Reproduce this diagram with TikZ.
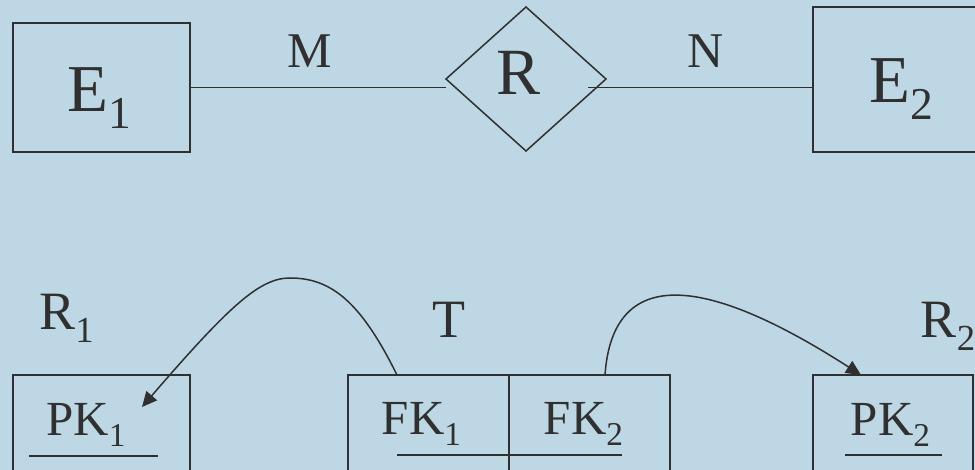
\documentclass[tikz,border=0pt]{standalone}
\usepackage{fontspec}
\setmainfont{Liberation Serif}
\usepackage{graphicx}
\usetikzlibrary{shapes.geometric,arrows.meta}
\definecolor{bg}{RGB}{190,215,228}
\definecolor{ink}{RGB}{48,48,48}
\newcommand\sz[1]{\fontsize{#1}{#1}\selectfont}
\newcommand\ix[1]{\raisebox{-0.24em}{\scalebox{0.68}{#1}}}
\tikzset{
    ent/.style={draw=ink, line width=1.8pt, minimum width=177pt, inner sep=0pt, outer sep=0pt},
    rel/.style={diamond, draw=ink, line width=1.5pt, minimum width=160pt, minimum height=144pt, inner sep=0pt, outer sep=0pt},
    tab/.style={draw=ink, line width=1.8pt, minimum height=150pt, inner sep=0pt, outer sep=0pt},
    lbl/.style={anchor=base, inner sep=0pt, text=ink},
    line/.style={draw=ink, line width=1.8pt},
    key/.style={draw=ink, line width=1.6pt},
    link/.style={draw=ink, line width=1.5pt, -{Triangle[length=15pt,width=14pt]}},
}

\begin{document}
\begin{tikzpicture}[x=1pt,y=-1pt]
\useasboundingbox (0,0) rectangle (975,470);
\fill[bg] (0,0) rectangle (975,470);
\clip (0,0) rectangle (975,470);

\node[ent, minimum height=129pt] (E1) at (101.5,87.5) {};
\node[ent, minimum height=145pt] (E2) at (901.5,79.5) {};
\node[rel] (Rd) at (526,79) {};
\node[lbl, font=\sz{67}] (e1) at (99.5,112) {E\ix{1}};
\node[lbl, font=\sz{67}] (e2) at (901.5,103) {E\ix{2}};
\node[lbl, font=\sz{66}] (r) at (518.5,95) {R};
\node[lbl, font=\sz{50}] (m) at (310,68) {M};
\node[lbl, font=\sz{50}] (n) at (706,68) {N};
\coordinate (rj) at ([xshift=-18pt]Rd.east);
\draw[line] (E1.east) -- (E1.east -| Rd.west);
\draw[line] (rj |- E1.east) -- (E1.east -| E2.west);

\node[tab, minimum width=177pt] (R1) at (101.5,450) {};
\node[tab, minimum width=322pt] (T) at (509,450) {};
\node[tab, minimum width=160pt] (R2) at (893,450) {};
\draw[key, line width=1.8pt] (T.north) -- (T.south);
\node[lbl, font=\sz{54}] (r1) at (66.5,330) {R\ix{1}};
\node[lbl, font=\sz{54}] (t) at (449,338) {T};
\node[lbl, font=\sz{54}] (r2) at (948,338) {R\ix{2}};
\node[lbl, font=\sz{49}] (pk1) at (86,435) {PK\ix{1}};
\node[lbl, font=\sz{49}] (fk1) at (421.5,434) {FK\ix{1}};
\node[lbl, font=\sz{49}] (fk2) at (583.5,434) {FK\ix{2}};
\node[lbl, font=\sz{49}] (pk2) at (890.5,435) {PK\ix{2}};
\draw[key] (29,456) -- (158,456);
\draw[key] (397,455) -- (622,455);
\draw[key] (845,455) -- (942,455);

\coordinate (fk1top) at (397,375);
\coordinate (fk2top) at (605,375);
\coordinate (pk1in) at (142,407);
\coordinate (pk2top) at (861,375);
\draw[link] (fk1top) .. controls (360,300) and (330,278) .. (290,278) .. controls (260,278) and (230,305) .. (pk1in);
\draw[link] (fk2top) .. controls (612,275) and (690,265) .. (pk2top);
\end{tikzpicture}
\end{document}
